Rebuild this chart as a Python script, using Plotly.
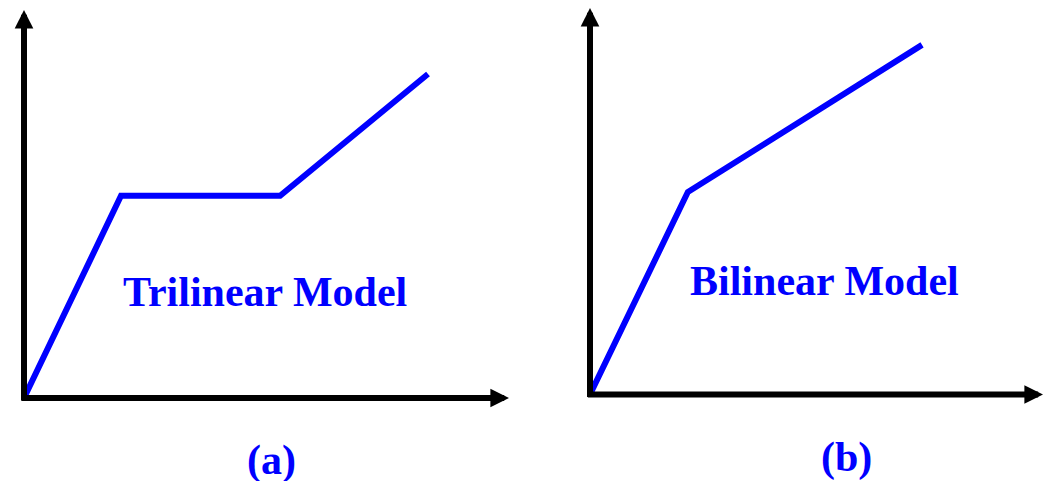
import plotly.graph_objects as go

# page offset (default body margin of the html page)
OFF = 8
W, H = 1051 - OFF, 481 - OFF

# Trilinear model (panel a) - abstract units
tri_x = [0, 2.0, 5.28, 8.33]
tri_y = [0, 4.17, 4.17, 6.68]

# Bilinear model (panel b)
bi_x = [0, 2.16, 7.33]
bi_y = [0, 4.17, 7.2]

axis_max_x = [10, 10]
axis_max_y = [8, 7.96]

labels = ["Trilinear Model", "Bilinear Model"]
panel_labels = ["(a)", "(b)"]

BLUE = "#0000FF"

fig = go.Figure()
fig.add_trace(go.Scatter(x=tri_x, y=tri_y, mode="lines",
                         line=dict(color=BLUE, width=6), xaxis="x", yaxis="y",
                         showlegend=False, hoverinfo="skip"))
fig.add_trace(go.Scatter(x=bi_x, y=bi_y, mode="lines",
                         line=dict(color=BLUE, width=6), xaxis="x2", yaxis="y2",
                         showlegend=False, hoverinfo="skip"))

def clamp(v):
    return min(1.0, max(0.0, v))

def px_dom_x(a, b):
    return [clamp((a - OFF) / W), clamp((b - OFF) / W)]

def px_dom_y(bottom, top):
    return [clamp((H - (bottom - OFF)) / H), clamp((H - (top - OFF)) / H)]

hidden = dict(visible=False, showgrid=False, zeroline=False, fixedrange=True)
fig.update_layout(
    width=W, height=H,
    margin=dict(l=0, r=0, t=0, b=0),
    paper_bgcolor="white", plot_bgcolor="rgba(0,0,0,0)",
    xaxis=dict(domain=px_dom_x(24, 509), range=[0, axis_max_x[0]], **hidden),
    yaxis=dict(domain=px_dom_y(398, 10), range=[0, axis_max_y[0]], **hidden),
    xaxis2=dict(domain=px_dom_x(590, 1043), range=[0, axis_max_x[1]], anchor="y2", **hidden),
    yaxis2=dict(domain=px_dom_y(394.5, 8), range=[0, axis_max_y[1]], anchor="x2", **hidden),
)

annotations = []
for i, (xr, yr) in enumerate([("x", "y"), ("x2", "y2")]):
    annotations.append(dict(x=axis_max_x[i], y=0, ax=-0.08, ay=0, xref=xr, yref=yr,
                            axref=xr, ayref=yr, text="", showarrow=True,
                            arrowhead=2, arrowsize=0.62, arrowwidth=6,
                            arrowcolor="black", standoff=0, startstandoff=0))
    annotations.append(dict(x=0, y=axis_max_y[i], ax=0, ay=-0.08, xref=xr, yref=yr,
                            axref=xr, ayref=yr, text="", showarrow=True,
                            arrowhead=2, arrowsize=0.62, arrowwidth=6,
                            arrowcolor="black", standoff=0, startstandoff=0))

font = dict(family="Liberation Serif, Times New Roman, serif", size=42, color=BLUE)

def paper_x(px):
    return (px - OFF) / W

def paper_y(py):
    return 1 - (py - OFF) / H

text_pos = [(265, 292), (824.5, 281)]
for lbl, (px, py) in zip(labels, text_pos):
    annotations.append(dict(x=paper_x(px), y=paper_y(py), xref="paper", yref="paper",
                            text="<b>" + lbl + "</b>", showarrow=False,
                            xanchor="center", yanchor="middle", font=font))
lab_pos = [(271, 460), (846, 457)]
for lbl, (px, py) in zip(panel_labels, lab_pos):
    annotations.append(dict(x=paper_x(px), y=paper_y(py), xref="paper", yref="paper",
                            text="<b>" + lbl + "</b>", showarrow=False,
                            xanchor="center", yanchor="middle", font=font))

fig.update_layout(annotations=annotations)
fig.write_html("out.html")
